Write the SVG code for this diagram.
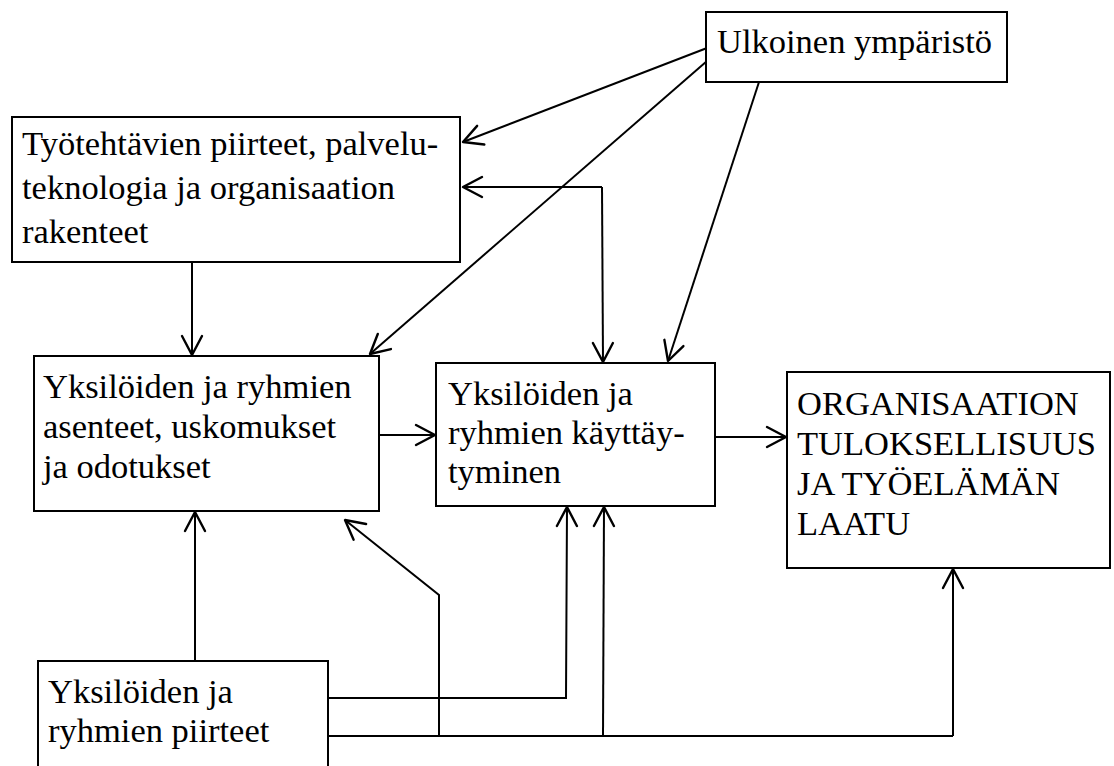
<svg xmlns="http://www.w3.org/2000/svg" width="1114" height="766" viewBox="0 0 1114 766">
  <style>
    .box { fill: #ffffff; stroke: #000000; stroke-width: 2; }
    .lbl { font-family: "Liberation Serif", "Times New Roman", serif; font-size: 34.5px; fill: #000000; }
    .wire { fill: none; stroke: #000000; stroke-width: 2; stroke-linejoin: miter; }
    .arr { marker-end: url(#open); }
  </style>
  <defs>
    <marker id="open" markerUnits="userSpaceOnUse" markerWidth="30" markerHeight="30" refX="0" refY="0" viewBox="-22 -15 27 30" orient="auto" overflow="visible">
      <path d="M -19 -10 L 0 0 L -19 10" fill="none" stroke="#000000" stroke-width="2.4" stroke-linecap="round" stroke-linejoin="round"/>
    </marker>
  </defs>

  <rect width="1114" height="766" fill="#ffffff"/>

  <!-- connectors -->
  <g id="connectors">
    <!-- external environment -> task features -->
    <path class="wire arr" d="M 707 48 L 463 142"/>
    <!-- external environment -> attitudes -->
    <path class="wire arr" d="M 707 61 L 370 354"/>
    <!-- external environment -> behaviour -->
    <path class="wire arr" d="M 759 82 L 668 361"/>
    <!-- behaviour <-> task features (two-way) -->
    <path class="wire arr" d="M 602 187 L 463 187"/>
    <path class="wire arr" d="M 602 187 L 603 362"/>
    <!-- task features -> attitudes -->
    <path class="wire arr" d="M 192 262 L 192 355"/>
    <!-- attitudes -> behaviour -->
    <path class="wire arr" d="M 380 435 L 435 435"/>
    <!-- behaviour -> outcomes -->
    <path class="wire arr" d="M 716 437 L 786 437"/>
    <!-- individual/group traits -> attitudes -->
    <path class="wire arr" d="M 195 661 L 195 512"/>
    <!-- traits, upper branch -> behaviour -->
    <path class="wire arr" d="M 329 698 L 566 698 L 567 507"/>
    <!-- traits, lower branch -> attitudes, behaviour, outcomes -->
    <path class="wire" d="M 329 736 L 953 736"/>
    <path class="wire arr" d="M 439 736 L 439 595 L 345 520"/>
    <path class="wire arr" d="M 603 736 L 604 507"/>
    <path class="wire arr" d="M 953 736 L 953 569"/>
  </g>

  <!-- nodes -->
  <g id="ulkoinen">
    <rect class="box" x="706" y="12" width="301" height="70"/>
    <text class="lbl" x="717" y="53">Ulkoinen ympäristö</text>
  </g>

  <g id="tyotehtavat">
    <rect class="box" x="12" y="117" width="448" height="145"/>
    <text class="lbl" x="22" y="155">Työtehtävien piirteet, palvelu-</text>
    <text class="lbl" x="22" y="199">teknologia ja organisaation</text>
    <text class="lbl" x="22" y="243">rakenteet</text>
  </g>

  <g id="asenteet">
    <rect class="box" x="34" y="356" width="345" height="155"/>
    <text class="lbl" x="43" y="398">Yksilöiden ja ryhmien</text>
    <text class="lbl" x="43" y="438">asenteet, uskomukset</text>
    <text class="lbl" x="43" y="478">ja odotukset</text>
  </g>

  <g id="kayttaytyminen">
    <rect class="box" x="436" y="363" width="279" height="143"/>
    <text class="lbl" x="448" y="405">Yksilöiden ja</text>
    <text class="lbl" x="448" y="444">ryhmien käyttäy-</text>
    <text class="lbl" x="448" y="483">tyminen</text>
  </g>

  <g id="tuloksellisuus">
    <rect class="box" x="787" y="372" width="323" height="196"/>
    <text class="lbl" x="797" y="415">ORGANISAATION</text>
    <text class="lbl" x="797" y="455">TULOKSELLISUUS</text>
    <text class="lbl" x="797" y="495">JA TYÖELÄMÄN</text>
    <text class="lbl" x="797" y="535">LAATU</text>
  </g>

  <g id="piirteet">
    <rect class="box" x="38" y="661" width="290" height="130"/>
    <text class="lbl" x="48" y="703">Yksilöiden ja</text>
    <text class="lbl" x="48" y="742">ryhmien piirteet</text>
  </g>
</svg>
